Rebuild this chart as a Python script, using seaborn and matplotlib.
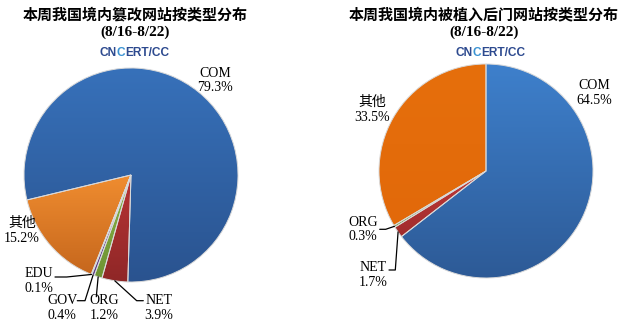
import numpy as np
import matplotlib
matplotlib.use("Agg")
import matplotlib.pyplot as plt
import seaborn as sns
from matplotlib.lines import Line2D
from matplotlib.colors import LinearSegmentedColormap

# ---------------- data ----------------
left_title = "本周我国境内篡改网站按类型分布"
right_title = "本周我国境内被植入后门网站按类型分布"
subtitle = "(8/16-8/22)"
logo_parts = ["CN", "C", "ERT/CC"]

left_labels = ["COM", "NET", "ORG", "GOV", "EDU", "其他"]
left_values = [79.3, 3.9, 1.2, 0.4, 0.1, 15.2]

right_labels = ["COM", "NET", "ORG", "其他"]
right_values = [64.5, 1.7, 0.3, 33.5]

# ---------------- style ----------------
sns.set_theme(style="white")
plt.rcParams["font.family"] = ["Liberation Serif", "Noto Sans CJK SC", "DejaVu Sans"]

# (top colour, bottom colour) for each slice
left_colors = [("#3771BA", "#2A538F"), ("#B83434", "#8F2727"), ("#8AB444", "#6E9234"),
               ("#7452A6", "#5A3D86"), ("#44A8C4", "#3388A0"), ("#F08D30", "#C6671D")]
right_colors = [("#3E80CC", "#2D5A96"), ("#C03838", "#A02C2C"), ("#92B650", "#7A9A40"),
                ("#E66F0C", "#E2690A")]

W, H = 626, 329
fig = plt.figure(figsize=(W / 100, H / 100), dpi=100)
fig.patch.set_facecolor("white")

R = 107  # pie radius in px


def fx(x):
    return x / W


def fy(y):
    return (H - y) / H


def make_pie_ax(cx, cy):
    ax = fig.add_axes([fx(cx - R), fy(cy + R), 2 * R / W, 2 * R / H])
    ax.set_xlim(-1, 1)
    ax.set_ylim(-1, 1)
    ax.set_axis_off()
    return ax


def draw_pie(ax, values, colors, start):
    wedges, _ = ax.pie(values, colors=[c[0] for c in colors], startangle=start,
                       counterclock=False, radius=1.0, center=(0, 0), frame=False,
                       wedgeprops=dict(edgecolor="#D9D9D9", linewidth=0.7))
    # vertical gradient fill clipped to each wedge
    for w, (ctop, cbot) in zip(wedges, colors):
        verts = w.get_path().vertices
        y0, y1 = verts[:, 1].min(), verts[:, 1].max()
        cmap = LinearSegmentedColormap.from_list("g", [cbot, ctop])
        grad = np.linspace(0, 1, 256).reshape(-1, 1)
        im = ax.imshow(grad, cmap=cmap, origin="lower", extent=(-1, 1, y0, y1),
                       aspect="auto", zorder=w.get_zorder() + 0.1, interpolation="bilinear")
        im.set_clip_path(w)
        w.set_facecolor("none")
        w.set_zorder(w.get_zorder() + 0.2)
    ax.set_xlim(-1, 1)
    ax.set_ylim(-1, 1)
    return wedges


def anchor_px(wedge, cx, cy):
    mid = np.deg2rad((wedge.theta1 + wedge.theta2) / 2)
    return cx + R * np.cos(mid), cy - R * np.sin(mid)


def leader(points):
    xs = [fx(p[0]) for p in points]
    ys = [fy(p[1]) for p in points]
    fig.add_artist(Line2D(xs, ys, color="black", lw=0.9, transform=fig.transFigure))


def label(x, y, name, val):
    fig.text(fx(x), fy(y), f"{name}\n{val}%", ha="center", va="center",
             fontsize=10, linespacing=1.15, color="black",
             family=["Liberation Serif", "Noto Sans CJK SC"])


def header(x, title):
    fig.text(fx(x), fy(14), title, ha="center", va="center", fontsize=10.8,
             fontweight="bold", family=["Noto Sans CJK SC", "DejaVu Sans"], color="black")
    fig.text(fx(x), fy(32), subtitle, ha="center", va="center", fontsize=11,
             fontweight="bold", family=["Liberation Serif"], color="black")


logo_colors = ["#2D4A8F", "#3B93D3", "#2D4A8F"]


def logo(x):
    texts = [fig.text(0, fy(53), p, ha="left", va="center", fontsize=8.6,
                      fontweight="bold", family=["Liberation Sans"], color=c)
             for p, c in zip(logo_parts, logo_colors)]
    fig.canvas.draw()
    r = fig.canvas.get_renderer()
    widths = [t.get_window_extent(r).width for t in texts]
    xs = x - sum(widths) / 2
    for t, w in zip(texts, widths):
        t.set_x(fx(xs))
        xs += w
    return texts


# ---------------- left pie ----------------
lcx, lcy = 131, 175
axl = make_pie_ax(lcx, lcy)
lw = draw_pie(axl, left_values, left_colors, 193.5)
header(135, left_title)

left_pos = {"COM": (215, 80.5), "NET": (158.7, 308), "ORG": (104.5, 308),
            "GOV": (62, 308), "EDU": (39, 281), "其他": (22, 231)}
for name, val in zip(left_labels, left_values):
    label(*left_pos[name], name, val)

anc = {n: anchor_px(w, lcx, lcy) for n, w in zip(left_labels, lw)}
leader([(55, 277), (66.7, 277), anc["EDU"]])
leader([(77.3, 300.7), (85, 300.7), anc["GOV"]])
leader([(96.3, 296.7), anc["ORG"]])
leader([(143.3, 300.7), (136.7, 300.7), anc["NET"]])

# ---------------- right pie ----------------
rcx, rcy = 486, 171
axr = make_pie_ax(rcx, rcy)
rw = draw_pie(axr, right_values, right_colors, 90)
header(484, right_title)

right_pos = {"COM": (594.5, 93), "其他": (372, 110), "ORG": (363, 229.5),
             "NET": (373, 275)}
for name, val in zip(right_labels, right_values):
    label(*right_pos[name], name, val)

ranc = {n: anchor_px(w, rcx, rcy) for n, w in zip(right_labels, rw)}
leader([(379.7, 229.3), (385.7, 229.3), ranc["ORG"]])
leader([(389, 270), (395.3, 270), ranc["NET"]])

logo(134)
logo(490)

fig.savefig("out.png", dpi=100, facecolor="white")
